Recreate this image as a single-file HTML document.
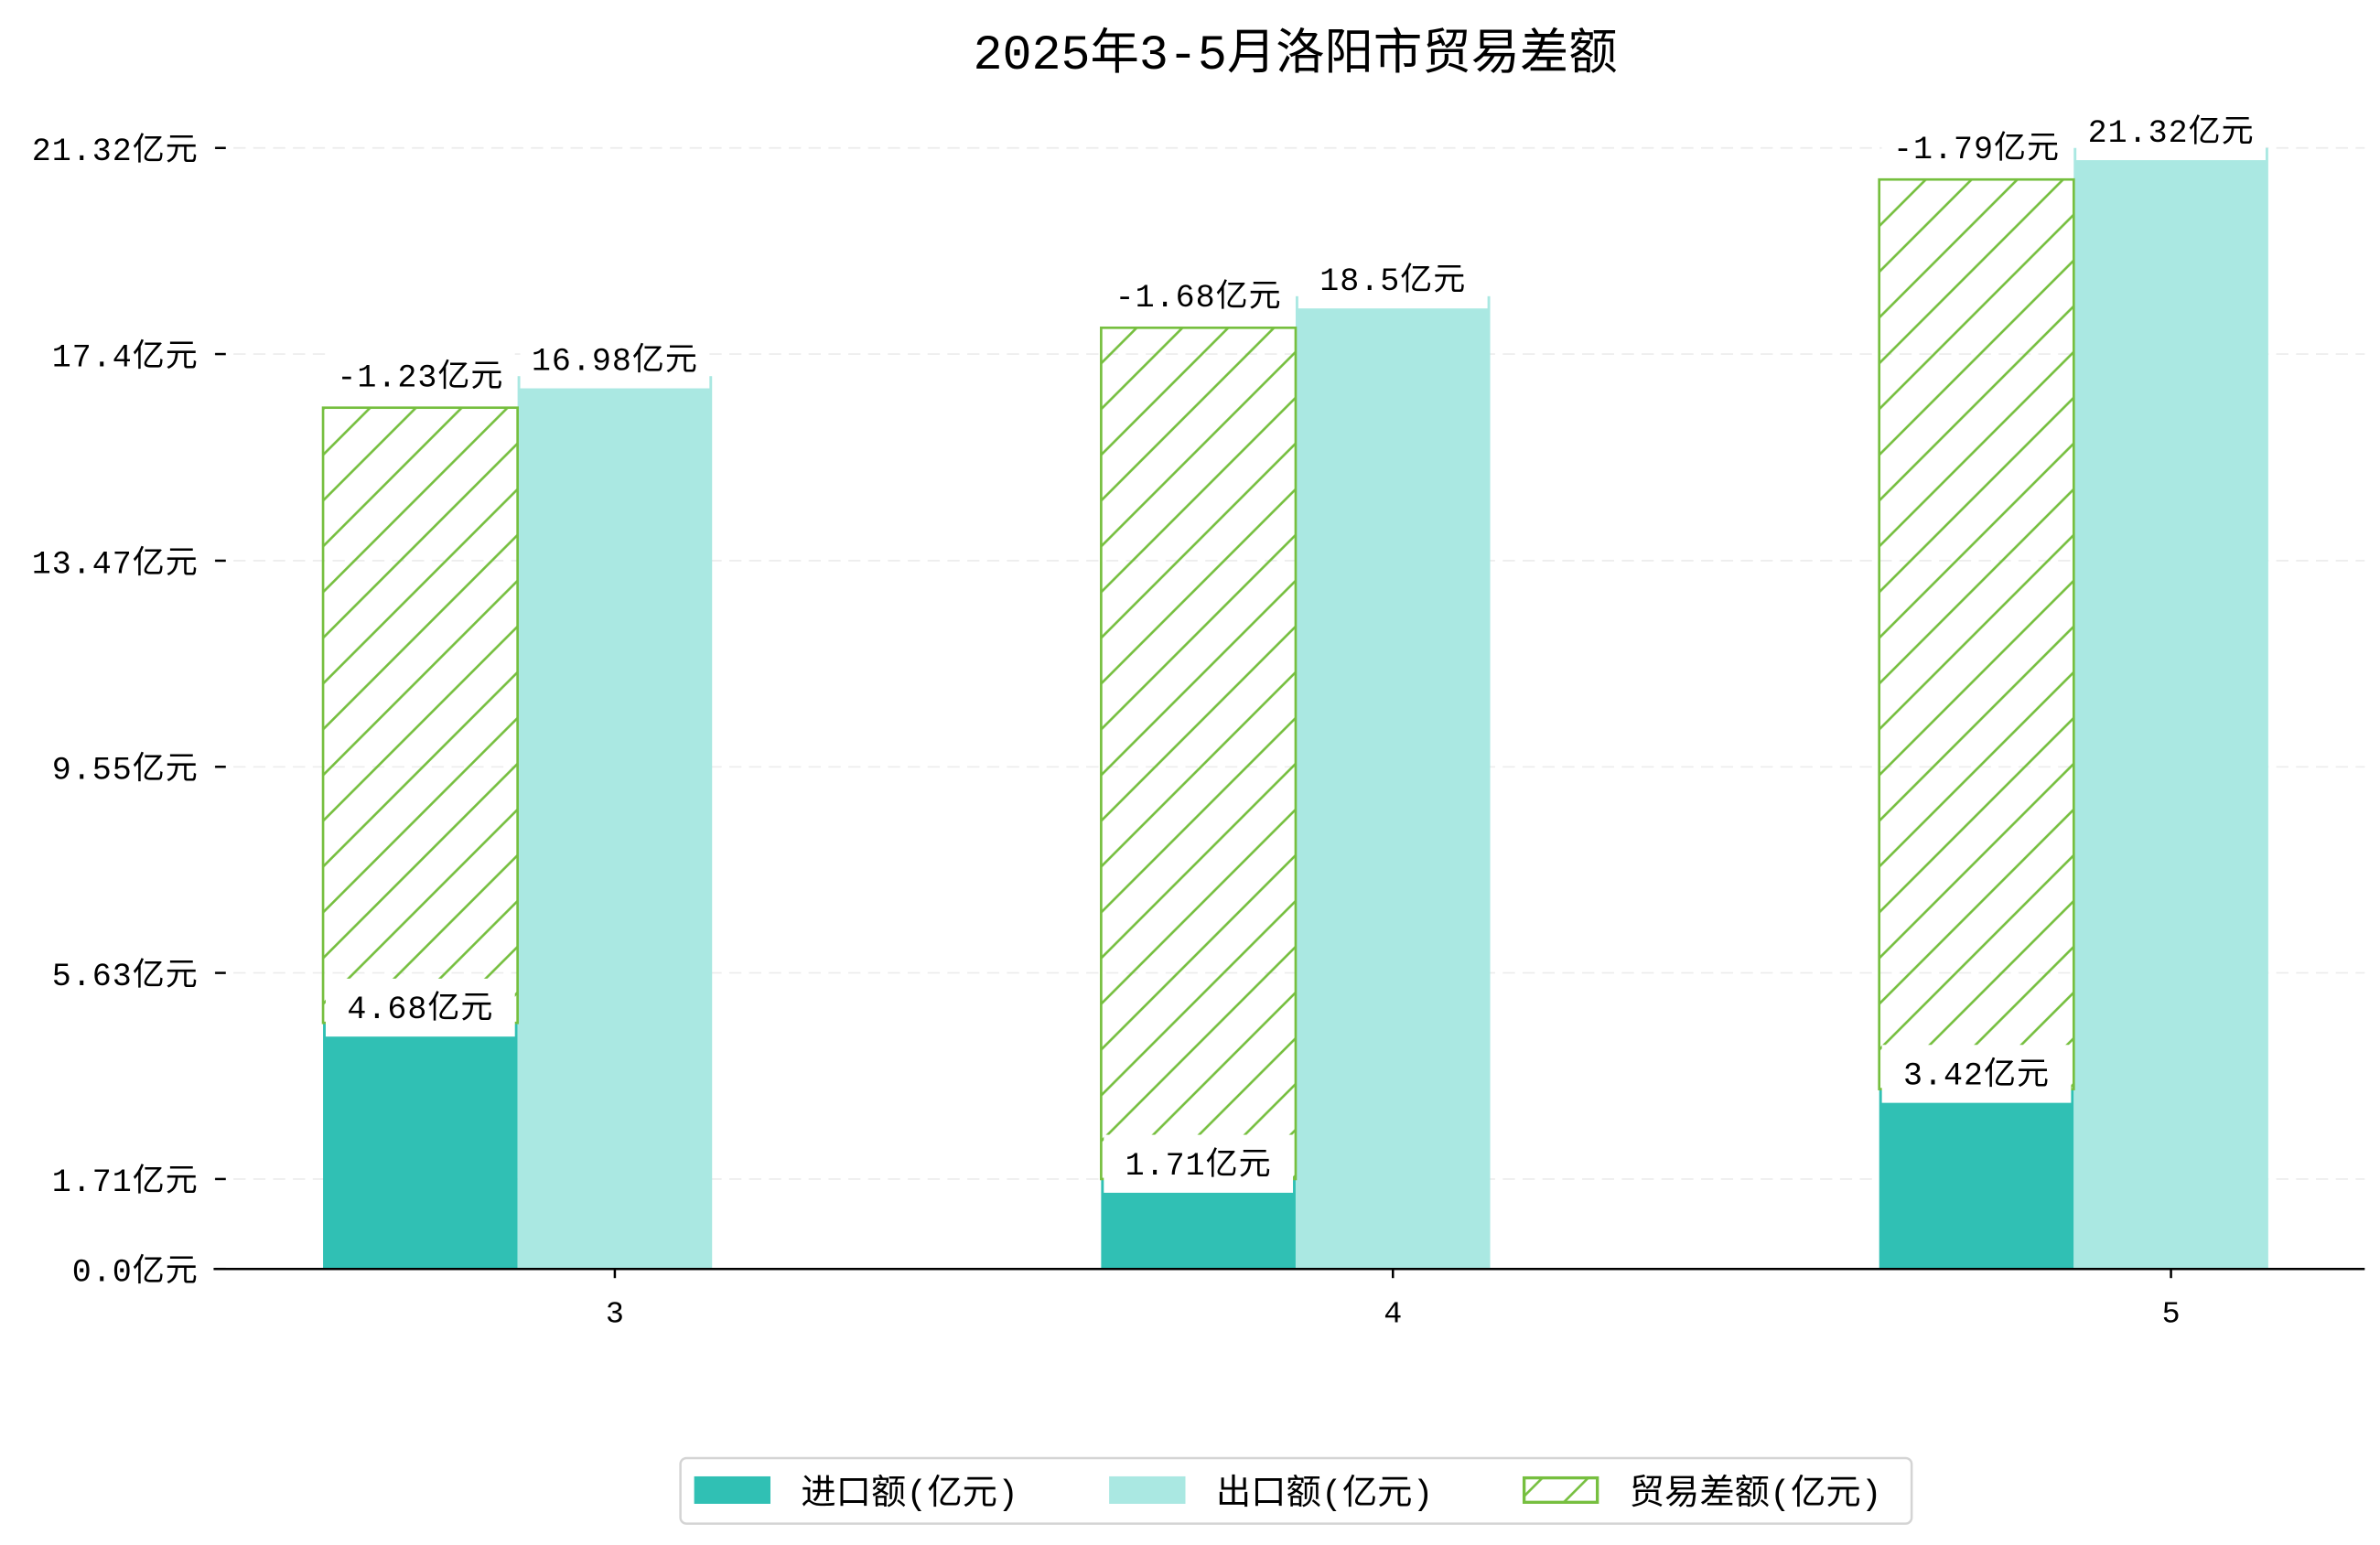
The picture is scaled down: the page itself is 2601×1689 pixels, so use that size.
<!DOCTYPE html>
<html><head><meta charset="utf-8">
<style>
html,body{margin:0;padding:0;background:#fff;}
svg{display:block;font-family:"Liberation Mono","Noto Sans CJK SC",monospace;}
</style></head>
<body>
<svg id="chart" width="2601" height="1689" viewBox="0 0 1560 1013" xmlns="http://www.w3.org/2000/svg">
<defs>
<pattern id="hatch" patternUnits="userSpaceOnUse" width="30" height="30">
<path d="M-5,35 L35,-5 M-5,5 L5,-5 M25,35 L35,25" stroke="#76bf3f" stroke-width="1.6"/>
</pattern>
</defs>
<text x="849" y="45" text-anchor="middle" font-size="32" fill="#000">2025年3-5月洛阳市贸易差额</text>
<g id="grid"></g>
<g id="bars"></g>
<g id="labels"></g>
<g id="axes"></g>
<g>
<rect x="446" y="956" width="807" height="43" rx="4" fill="#fff" stroke="#d4d4d4" stroke-width="1.5"/>
<rect x="455" y="968" width="50" height="18" fill="#30c0b4"/>
<text x="525" y="986" font-size="23">进口额(亿元)</text>
<rect x="727" y="968" width="50" height="18" fill="#aae8e2"/>
<text x="797" y="986" font-size="23">出口额(亿元)</text>
<rect x="999" y="969" width="48" height="16" fill="url(#hatch)" stroke="#76bf3f" stroke-width="2"/>
<text x="1068" y="986" font-size="23">贸易差额(亿元)</text>
</g>
</svg>
<script>
const categories = ["3", "4", "5"];
const importVals = [4.68, 1.71, 3.42];
const exportVals = [16.98, 18.5, 21.32];
const balanceVals = [-1.23, -1.68, -1.79];
const balanceTops = [16.38, 17.9, 20.72];
const tickVals = [0.0, 1.71, 5.63, 9.55, 13.47, 17.4, 21.32];
const tickLabels = ["0.0亿元", "1.71亿元", "5.63亿元", "9.55亿元", "13.47亿元", "17.4亿元", "21.32亿元"];

const NS = "http://www.w3.org/2000/svg";
const X0 = 140, X1 = 1550, Y0 = 832, YTOP = 97, VMAX = 21.32;
const step = 510, firstX = 403, bw = 127.5;
function y(v){ return Y0 - (v / VMAX) * (Y0 - YTOP); }
function x(i){ return firstX + i * step; }
function mk(tag, attrs, parent){
  const e = document.createElementNS(NS, tag);
  for (const k in attrs) e.setAttribute(k, attrs[k]);
  parent.appendChild(e);
  return e;
}
const grid = document.getElementById('grid');
const bars = document.getElementById('bars');
const labels = document.getElementById('labels');
const axes = document.getElementById('axes');

tickVals.forEach((v, i) => {
  if (v > 0) {
    const g = mk('line', {x1: X0, x2: X1, y1: y(v), y2: y(v), stroke: '#ececec', 'stroke-width': 1, 'stroke-dasharray': '8,5'}, grid);
    
    
  }
  const t = mk('line', {x1: X0 + 1, x2: X0 + 8, y1: y(v), y2: y(v), stroke: '#000', 'stroke-width': 1.5}, axes);
  
  
  const l = mk('text', {x: 130, y: y(v) + 8, 'text-anchor': 'end', 'font-size': 21, 'letter-spacing': 0.6}, axes);
  l.textContent = tickLabels[i];
  
  
});

function label(txt, cx, cy, w){
  const r = mk('rect', {x: cx - w / 2, y: cy - 18, width: w, height: 38, fill: '#fff'}, labels);
  
  
  const t = mk('text', {x: cx, y: cy + 8, 'text-anchor': 'middle', 'font-size': 21, 'letter-spacing': 0.6}, labels);
  t.textContent = txt;
  
  
}

categories.forEach((c, i) => {
  const cx = x(i);
  const ix = cx - bw * 1.5, ex = cx - bw / 2;
  const ib = mk('rect', {x: ix, y: y(importVals[i]), width: bw, height: Y0 - y(importVals[i]), fill: '#30c0b4'}, bars);
  
  
  const eb = mk('rect', {x: ex, y: y(exportVals[i]), width: bw, height: Y0 - y(exportVals[i]), fill: '#aae8e2'}, bars);
  
  
  const hb = mk('rect', {x: ix, y: y(balanceTops[i]), width: bw, height: y(importVals[i]) - y(balanceTops[i]), fill: 'url(#hatch)', stroke: '#76bf3f', 'stroke-width': 1.6}, bars);
  
  

  label(importVals[i] + '亿元', ix + bw / 2, y(importVals[i]) - 11, 124);
  label(balanceVals[i] + '亿元', ix + bw / 2, y(balanceTops[i]) - 22, 124);
  label(exportVals[i] + '亿元', ex + bw / 2, y(exportVals[i]) - 12, 124);

  const xt = mk('line', {x1: cx, x2: cx, y1: Y0, y2: Y0 + 6, stroke: '#000', 'stroke-width': 1.5}, axes);
  
  
  const xl = mk('text', {x: cx, y: 867, 'text-anchor': 'middle', 'font-size': 20}, axes);
  xl.textContent = c;
  
  
});

const ax = mk('line', {x1: X0, x2: X1, y1: Y0, y2: Y0, stroke: '#000', 'stroke-width': 1.5}, axes);


</script>
</body></html>
